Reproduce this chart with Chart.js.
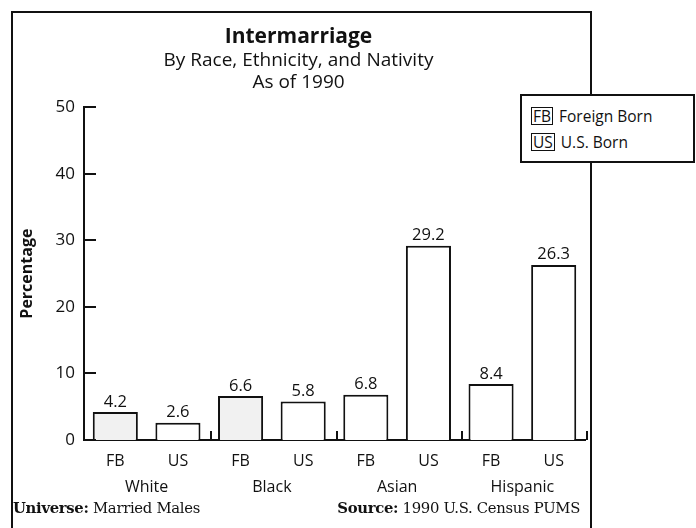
<!DOCTYPE html>
<html>
<head>
<meta charset="utf-8">
<script src="https://cdn.jsdelivr.net/npm/chart.js@4/dist/chart.umd.min.js"></script>
<style>
  body { margin: 0; background: #fff; }
  .wrap { position: relative; width: 696px; height: 528px; overflow: hidden; font-family: 'Open Sans', sans-serif; color: #111; }
  .frame { position: absolute; left: 11px; top: 11px; width: 577px; height: 600px; border-top: 2px solid #111; border-left: 2px solid #111; border-right: 2px solid #111; }
  canvas { position: absolute; left: 0; top: 0; }
  .legend { position: absolute; left: 520px; top: 94px; width: 171px; height: 65px; border: 2px solid #111; background: #fff; font-size: 15.5px; }
  .legend .row { position: absolute; left: 9px; height: 18px; line-height: 18px; }
  .legend .key { display: inline-block; border: 1px solid #111; padding: 0 1px; margin-right: 6px; line-height: 16px; }
  .foot { position: absolute; top: 499px; font-family: 'DejaVu Serif', serif; font-size: 14.8px; letter-spacing: -0.3px; }
</style>
</head>
<body>
<div class="wrap">
  <div class="frame"></div>
  <canvas id="chart" width="696" height="528"></canvas>
  <div class="legend">
    <div class="row" style="top:11px"><span class="key">FB</span>Foreign Born</div>
    <div class="row" style="top:37px"><span class="key">US</span>U.S. Born</div>
  </div>
  <div class="foot" style="left:13px"><b>Universe:</b> Married Males</div>
  <div class="foot" style="right:116px"><b>Source:</b> 1990 U.S. Census PUMS</div>
</div>
<script>
const groups = ['White', 'Black', 'Asian', 'Hispanic'];
const subLabels = ['FB', 'US', 'FB', 'US', 'FB', 'US', 'FB', 'US'];
const foreignBorn = [4.2, 6.6, 6.8, 8.4];
const usBorn = [2.6, 5.8, 29.2, 26.3];
const yTicks = [0, 10, 20, 30, 40, 50];

const ink = '#111';
const sans = "'Open Sans', sans-serif";

// value above each bar
const valueLabels = {
  id: 'valueLabels',
  afterDatasetsDraw(chart) {
    const ctx = chart.ctx;
    ctx.save();
    ctx.fillStyle = ink;
    ctx.font = '16.5px ' + sans;
    ctx.textAlign = 'center';
    ctx.textBaseline = 'bottom';
    chart.data.datasets.forEach((ds, i) => {
      chart.getDatasetMeta(i).data.forEach((bar, j) => {
        ctx.fillText(ds.data[j].toFixed(1), bar.x, bar.y - 2);
      });
    });
    ctx.restore();
  }
};

// ticks pointing into the plot, plus small marks between the groups
const innerTicks = {
  id: 'innerTicks',
  afterDraw(chart) {
    const ctx = chart.ctx;
    const y = chart.scales.y, x = chart.scales.x;
    const base = chart.chartArea.bottom;
    ctx.save();
    ctx.strokeStyle = ink;
    ctx.lineWidth = 2;
    y.ticks.forEach(t => {
      const py = Math.round(y.getPixelForValue(t.value));
      ctx.beginPath();
      ctx.moveTo(y.right, py);
      ctx.lineTo(y.right + 12, py);
      ctx.stroke();
    });
    groups.forEach((g, i) => {
      const px = Math.round(x.getPixelForValue(i + 0.5)) + 2;
      ctx.beginPath();
      ctx.moveTo(px, base);
      ctx.lineTo(px, base - 9);
      ctx.stroke();
    });
    ctx.restore();
  }
};

new Chart(document.getElementById('chart'), {
  type: 'bar',
  data: {
    labels: groups,
    datasets: [
      {
        label: 'Foreign Born',
        data: foreignBorn,
        xAxisID: 'x',
        backgroundColor: ['#f1f1f1', '#f1f1f1', '#fff', '#fff'],
        borderColor: ink,
        borderWidth: 2
      },
      {
        label: 'U.S. Born',
        data: usBorn,
        xAxisID: 'x',
        backgroundColor: '#fff',
        borderColor: ink,
        borderWidth: 2
      }
    ]
  },
  options: {
    responsive: false,
    animation: false,
    categoryPercentage: 1.0,
    barPercentage: 0.72,
    layout: { padding: { left: 12, right: 111, top: 0, bottom: 28 } },
    plugins: {
      legend: { display: false },
      tooltip: { enabled: false },
      title: {
        display: true,
        text: 'Intermarriage',
        color: ink,
        font: { family: sans, size: 21, weight: 'bold', lineHeight: 1.2 },
        padding: { top: 24, bottom: 0 }
      },
      subtitle: {
        display: true,
        text: ['By Race, Ethnicity, and Nativity', 'As of 1990'],
        color: ink,
        font: { family: sans, size: 19, lineHeight: 1.16 },
        padding: { top: 0, bottom: 14 }
      }
    },
    scales: {
      y: {
        min: 0,
        max: 50,
        afterBuildTicks: s => { s.ticks = yTicks.map(v => ({ value: v })); },
        afterFit: s => { s.width = 72; },
        grid: { display: false, drawTicks: false },
        border: { display: true, color: ink, width: 2 },
        ticks: { color: ink, padding: 9, font: { family: sans, size: 17 } },
        title: {
          display: true,
          text: 'Percentage',
          color: ink,
          font: { family: sans, size: 16, weight: 'bold' },
          padding: { top: 6, bottom: 0 }
        }
      },
      xSub: {
        type: 'category',
        labels: subLabels,
        position: 'bottom',
        offset: true,
        weight: 0,
        afterFit: s => { s.height = 36; },
        grid: { display: false, drawTicks: false },
        border: { display: true, color: ink, width: 2 },
        ticks: { color: ink, padding: 12, autoSkip: false, maxRotation: 0, font: { family: sans, size: 16 } }
      },
      x: {
        position: 'bottom',
        weight: 1,
        afterFit: s => { s.height = 24; },
        grid: { display: false, drawTicks: false },
        border: { display: false },
        ticks: { color: ink, padding: 2, maxRotation: 0, font: { family: sans, size: 16 } }
      }
    }
  },
  plugins: [valueLabels, innerTicks]
});
</script>
</body>
</html>
